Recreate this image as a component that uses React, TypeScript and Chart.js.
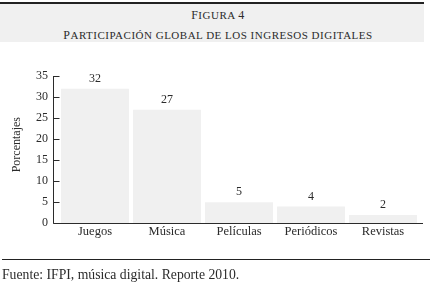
import React, { useEffect, useRef } from "react";
import { Chart, registerables } from "chart.js";

Chart.register(...registerables);

const categories = ["Juegos", "Música", "Películas", "Periódicos", "Revistas"];
const values = [32, 27, 5, 4, 2];
const yTicks = [0, 5, 10, 15, 20, 25, 30, 35];
const figureLabel = "Figura 4";
const figureTitle = "Participación global de los ingresos digitales";
const yTitle = "Porcentajes";
const source = "Fuente: IFPI, música digital. Reporte 2010.";

const FONT = "'Liberation Serif', 'Times New Roman', serif";
const INK = "#2b2b2b";

const axesPlugin = {
  id: "customAxes",
  afterDatasetsDraw(chart: any) {
    const { ctx, chartArea, scales } = chart;
    const y = scales.y;
    const x0 = Math.round(chartArea.left - 6) + 0.5;
    const yb = Math.round(y.getPixelForValue(0)) + 0.5;
    const yt = y.getPixelForValue(35);
    ctx.save();
    ctx.strokeStyle = INK;
    ctx.lineWidth = 1;
    ctx.beginPath();
    ctx.moveTo(x0, yt);
    ctx.lineTo(x0, yb);
    ctx.lineTo(chartArea.right + 4, yb);
    yTicks.forEach((v) => {
      const py = Math.round(y.getPixelForValue(v)) + 0.5;
      ctx.moveTo(x0, py);
      ctx.lineTo(x0 + 6, py);
    });
    ctx.stroke();
    ctx.fillStyle = INK;
    ctx.font = `12px ${FONT}`;
    ctx.textAlign = "center";
    ctx.textBaseline = "bottom";
    const meta = chart.getDatasetMeta(0);
    meta.data.forEach((bar: any, i: number) => {
      ctx.fillText(String(values[i]), bar.x, bar.y - 4);
    });
    ctx.translate(17, (chartArea.top + chartArea.bottom) / 2 - 5);
    ctx.rotate(-Math.PI / 2);
    ctx.textBaseline = "middle";
    ctx.fillText(yTitle, 0, 0);
    ctx.restore();
  },
};

// First letter and digits at full size, everything else as small capitals.
function SmallCaps({ text }: { text: string }) {
  const parts: { s: string; big: boolean }[] = [];
  Array.from(text).forEach((ch, i) => {
    const big = i === 0 || /[0-9]/.test(ch);
    const last = parts[parts.length - 1];
    if (last && last.big === big) last.s += ch;
    else parts.push({ s: ch, big });
  });
  return (
    <>
      {parts.map((p, i) =>
        p.big ? (
          <span key={i} style={{ fontSize: 12, letterSpacing: 0.5 }}>
            {p.s.toUpperCase()}
          </span>
        ) : (
          <span key={i} style={{ fontSize: 11, letterSpacing: 0.5 }}>
            {p.s.toUpperCase()}
          </span>
        )
      )}
    </>
  );
}

export default function App() {
  const ref = useRef<HTMLCanvasElement>(null);
  useEffect(() => {
    if (!ref.current) return;
    const chart = new Chart(ref.current, {
      type: "bar",
      data: {
        labels: categories,
        datasets: [
          {
            data: values,
            backgroundColor: "#f0f0f0",
            borderWidth: 0,
            categoryPercentage: 1,
            barPercentage: 0.944,
          },
        ],
      },
      options: {
        animation: false,
        responsive: false,
        layout: { padding: { top: 76, right: 11, left: 0, bottom: 0 } },
        plugins: { legend: { display: false }, tooltip: { enabled: false } },
        scales: {
          x: {
            type: "category",
            offset: true,
            grid: { display: false, drawTicks: false },
            border: { display: false },
            ticks: { color: INK, font: { family: FONT, size: 12.5 }, padding: 1, maxRotation: 0 },
            afterFit: (s: any) => {
              s.height = 286 - 223.3;
            },
          },
          y: {
            min: 0,
            max: 35,
            grid: { display: false, drawTicks: false },
            border: { display: false },
            afterBuildTicks: (s: any) => {
              s.ticks = yTicks.map((v) => ({ value: v }));
            },
            ticks: { color: INK, font: { family: FONT, size: 12 }, padding: 11 },
            afterFit: (s: any) => {
              s.width = 59;
            },
          },
        },
      },
      plugins: [axesPlugin],
    });
    return () => chart.destroy();
  }, []);

  const titleStyle: React.CSSProperties = {
    position: "absolute",
    left: 6,
    width: 424,
    fontSize: 12,
    lineHeight: "12px",
    textAlign: "center",
    whiteSpace: "nowrap",
  };

  return (
    <div
      style={{
        position: "fixed",
        left: 0,
        top: 0,
        width: 430,
        height: 286,
        background: "#fff",
        fontFamily: FONT,
        color: INK,
        overflow: "hidden",
      }}
    >
      <div style={{ position: "absolute", left: 0, top: 2, width: 424, height: 1.5, background: "#222" }} />
      <div style={{ position: "absolute", left: 0, top: 3.5, width: 424, height: 38.5, background: "#f0f0f0" }} />
      <div style={{ ...titleStyle, top: 8.6 }}>
        <SmallCaps text={figureLabel} />
      </div>
      <div style={{ ...titleStyle, top: 28.6 }}>
        <SmallCaps text={figureTitle} />
      </div>
      <canvas ref={ref} width={430} height={286} style={{ position: "absolute", left: 0, top: 0, width: 430, height: 286 }} />
      <div style={{ position: "absolute", left: 2, top: 258.5, width: 428, height: 1, background: "#222" }} />
      <div
        style={{
          position: "absolute",
          left: 2,
          top: 268,
          fontSize: 13.7,
          lineHeight: "13.7px",
          whiteSpace: "nowrap",
        }}
      >
        {source}
      </div>
    </div>
  );
}
